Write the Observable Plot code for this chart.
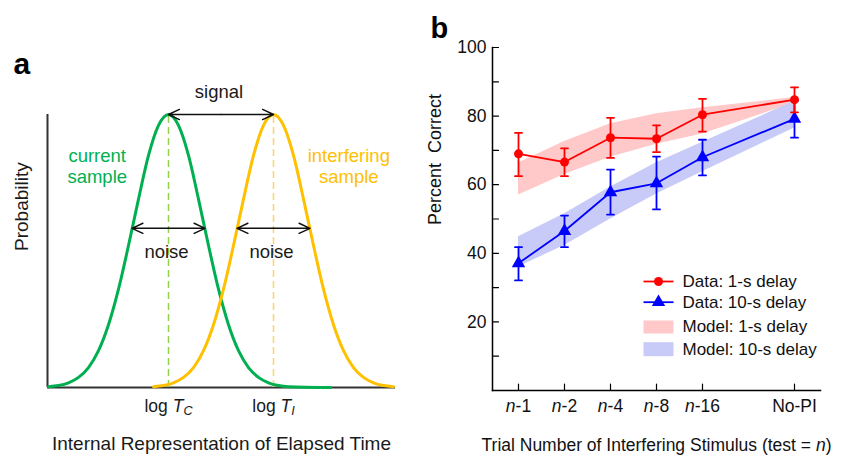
<!DOCTYPE html>
<html><head><meta charset="utf-8">
<script src="https://cdn.jsdelivr.net/npm/d3@7"></script>
<script src="https://cdn.jsdelivr.net/npm/@observablehq/plot@0.6"></script>
<style>
html,body{margin:0;padding:0;background:#fff;}
#root{position:relative;width:846px;height:455px;overflow:hidden;}
#pa,#pb{position:absolute;top:0;}
#pa{left:0;} #pb{left:420px;}
svg{overflow:visible;}
</style></head><body><div id="root"><div id="pa"></div><div id="pb"></div></div>
<script>
// ---------------- Panel a data ----------------
const sampleNames = ["current\nsample", "interfering\nsample"];
const sampleMeans = [121, 226];            // log T_C, log T_I on the internal-time axis
const meanLabels = ["log TC", "log TI"];
const profileOffsets = [-120,-110,-100,-90,-80,-70,-60,-50,-40,-30,-20,-10,0,10,20,30,40,50,60,70,80,90,100,110,120];
const profileHeights = [0.003,0.007,0.017,0.037,0.073,0.135,0.23,0.36,0.52,0.69,0.85,0.96,1,0.96,0.85,0.69,0.52,0.36,0.23,0.135,0.073,0.037,0.017,0.007,0.003];
const currentTailEnd = 162;
const noiseLevel = 0.583;
const noiseHalfWidth = 36.5;
const panelATexts = ["signal", "noise", "Probability", "Internal Representation of Elapsed Time", "a"];

// ---------------- Panel b data ----------------
const trials = ["n-1", "n-2", "n-4", "n-8", "n-16", "No-PI"];
const data1s     = [69.0, 66.6, 73.7, 73.4, 80.4, 84.8];
const err1sLow   = [62.5, 62.5, 67.8, 69.5, 75.5, 81.1];
const err1sHigh  = [75.1, 70.6, 79.5, 77.3, 85.0, 88.4];
const data10s    = [37.1, 46.5, 57.8, 60.4, 68.0, 79.2];
const err10sLow  = [32.1, 41.8, 51.3, 52.8, 62.7, 73.7];
const err10sHigh = [41.8, 51.0, 64.4, 68.2, 73.1, 84.5];
const model1sLow   = [57.0, 63.0, 68.0, 71.8, 74.8, 83.8];
const model1sHigh  = [66.3, 72.6, 77.8, 80.7, 82.4, 85.4];
const model10sLow  = [36.0, 42.3, 50.0, 57.3, 63.8, 76.5];
const model10sHigh = [44.8, 51.5, 59.3, 66.4, 72.4, 84.3];
const yTickValues = [10, 20, 30, 40, 50, 60, 70, 80, 90, 100];
const yTickLabels = [20, 40, 60, 80, 100];
const legendLabels = ["Data: 1-s delay", "Data: 10-s delay", "Model: 1-s delay", "Model: 10-s delay"];
const yTitle = "Percent  Correct";
const xTitle = "Trial Number of Interfering Stimulus (test = n)";

const FONT = '"Liberation Sans", Arial, Helvetica, sans-serif';
const GREEN = "#00b050", GOLD = "#ffc000", LGREEN = "#92d050", LGOLD = "#ffd65c";
const RED = "#ff0000", BLUE = "#0000ff", PINK = "#ffc9c9", LAV = "#c8cbf7";
const segment = {draw(ctx, l) { ctx.moveTo(0, 0); ctx.lineTo(0, -l); }};

// ---------------- Panel a ----------------
const currentRows = profileOffsets.map((o, i) => ({x: sampleMeans[0] + o, p: profileHeights[i]}));
currentRows.push({x: sampleMeans[0] + currentTailEnd, p: 0});
const interferingRows = profileOffsets.map((o, i) => ({x: sampleMeans[1] + o, p: profileHeights[i]}));
const signalMid = (sampleMeans[0] + sampleMeans[1]) / 2;
const noiseEnds = sampleMeans.flatMap(m => [{m, e: m - noiseHalfWidth}, {m, e: m + noiseHalfWidth}]);
const arrowStyle = {stroke: "#111", strokeWidth: 1.5, headLength: 12, headAngle: 50};

const plotA = Plot.plot({
  width: 420, height: 455,
  marginLeft: 47, marginRight: 25, marginTop: 114, marginBottom: 68,
  x: {domain: [0, 348], axis: null},
  y: {domain: [0, 1], axis: null},
  style: {fontFamily: FONT, fontSize: "18px", color: "#1a1a1a", background: "transparent", overflow: "visible"},
  marks: [
    Plot.ruleX([0], {y1: 0, y2: 1, stroke: "#333", strokeWidth: 2}),
    Plot.ruleY([0], {stroke: "#333", strokeWidth: 2}),
    Plot.ruleX([sampleMeans[0]], {y1: 0, y2: 1, stroke: LGREEN, strokeWidth: 1.5, strokeDasharray: "7,4"}),
    Plot.ruleX([sampleMeans[1]], {y1: 0, y2: 1, stroke: LGOLD, strokeWidth: 1.5, strokeDasharray: "7,4"}),
    Plot.line(currentRows, {x: "x", y: "p", stroke: GREEN, strokeWidth: 3, curve: "monotone-x"}),
    Plot.line(interferingRows, {x: "x", y: "p", stroke: GOLD, strokeWidth: 3, curve: "monotone-x"}),
    Plot.arrow(sampleMeans, {x1: signalMid, x2: d => d, y1: 1, y2: 1, ...arrowStyle}),
    Plot.arrow(noiseEnds, {x1: "m", x2: "e", y1: noiseLevel, y2: noiseLevel, ...arrowStyle}),
    Plot.text([panelATexts[0]], {x: signalMid, y: 1, dx: -2, dy: -17, lineAnchor: "bottom", fontSize: 18.5}),
    Plot.text(sampleMeans, {x: d => d, y: noiseLevel, text: () => panelATexts[1], dx: -2, dy: 30, lineAnchor: "bottom", fontSize: 18.5}),
    Plot.text([sampleNames[0]], {x: 49.7, y: 0.813, fill: GREEN, fontSize: 18.5, lineHeight: 1.17}),
    Plot.text([sampleNames[1]], {x: 301.3, y: 0.813, fill: GOLD, fontSize: 18.5, lineHeight: 1.17}),
    Plot.text(sampleMeans, {x: d => d, y: 0, text: (d, i) => meanLabels[i], dy: 24, lineAnchor: "bottom", fontSize: 17.5}),
    Plot.text([panelATexts[2]], {frameAnchor: "left", rotate: -90, dx: -26, lineAnchor: "middle", fontSize: 19}),
    Plot.text([panelATexts[3]], {frameAnchor: "bottom", dy: 56, lineAnchor: "middle", fontSize: 19}),
    Plot.text([panelATexts[4]], {frameAnchor: "top-left", dx: -34, dy: -41, lineAnchor: "bottom", textAnchor: "start", fontSize: 30, fontWeight: "bold", fill: "#000"})
  ]
});
document.getElementById("pa").appendChild(plotA);

// ---------------- Panel b ----------------
const rows = trials.map((t, i) => ({
  t, d1: data1s[i], e1lo: err1sLow[i], e1hi: err1sHigh[i],
  d10: data10s[i], e10lo: err10sLow[i], e10hi: err10sHigh[i],
  m1lo: model1sLow[i], m1hi: model1sHigh[i], m10lo: model10sLow[i], m10hi: model10sHigh[i]
}));
const xDomain = [...trials.slice(0, 5), " ", trials[5]];

function series(color, dKey, loKey, hiKey, symbol, r) {
  return [
    Plot.ruleX(rows, {x: "t", y1: loKey, y2: hiKey, stroke: color, strokeWidth: 1.8}),
    Plot.vector(rows, {x: "t", y: loKey, rotate: 90, length: 7, anchor: "middle", shape: segment, stroke: color, strokeWidth: 1.8}),
    Plot.vector(rows, {x: "t", y: hiKey, rotate: 90, length: 7, anchor: "middle", shape: segment, stroke: color, strokeWidth: 1.8}),
    Plot.line(rows, {x: "t", y: dKey, stroke: color, strokeWidth: 1.8}),
    Plot.dot(rows, {x: "t", y: dKey, symbol, r, fill: color, stroke: "none"})
  ];
}

const legendY = [234, 254.7, 279.5, 301.7];
const swatch = {frameAnchor: "top-left", dx: 151, rotate: 90, length: 30, anchor: "start", shape: segment, strokeLinecap: "butt"};
const legendMarks = [
  Plot.vector([0], {...swatch, dy: legendY[0], stroke: RED, strokeWidth: 1.8}),
  Plot.dot([0], {frameAnchor: "top-left", dx: 166, dy: legendY[0], r: 4.5, symbol: "circle", fill: RED}),
  Plot.vector([0], {...swatch, dy: legendY[1], stroke: BLUE, strokeWidth: 1.8}),
  Plot.dot([0], {frameAnchor: "top-left", dx: 166, dy: legendY[1], r: 5, symbol: "triangle", fill: BLUE}),
  Plot.vector([0], {...swatch, dy: legendY[2], stroke: PINK, strokeWidth: 13}),
  Plot.vector([0], {...swatch, dy: legendY[3], stroke: LAV, strokeWidth: 14})
];
legendLabels.forEach((lab, i) => legendMarks.push(
  Plot.text([lab], {frameAnchor: "top-left", dx: 190, dy: legendY[i], textAnchor: "start", lineAnchor: "middle", fontSize: 17})
));

const plotB = Plot.plot({
  width: 426, height: 455,
  marginLeft: 72, marginRight: 26, marginTop: 47, marginBottom: 65,
  x: {type: "point", domain: xDomain, padding: 0.5},
  y: {domain: [0, 100]},
  style: {fontFamily: FONT, fontSize: "17px", color: "#111", background: "transparent", overflow: "visible"},
  marks: [
    Plot.areaY(rows, {x: "t", y1: "m1lo", y2: "m1hi", fill: PINK}),
    Plot.areaY(rows, {x: "t", y1: "m10lo", y2: "m10hi", fill: LAV}),
    ...series(BLUE, "d10", "e10lo", "e10hi", "triangle", 5),
    ...series(RED, "d1", "e1lo", "e1hi", "circle", 4.5),
    Plot.axisY(yTickLabels, {tickSize: 0, tickPadding: 6, fontSize: 17.5, label: null}),
    Plot.vector(yTickValues, {y: d => d, frameAnchor: "left", rotate: 90, length: 6, anchor: "start", shape: segment, stroke: "#000", strokeWidth: 1.2}),
    Plot.axisX(trials, {tickSize: 0, tickPadding: 9, fontSize: 17.5, label: null}),
    Plot.vector(trials, {x: d => d, frameAnchor: "bottom", rotate: 0, length: 6.5, anchor: "start", shape: segment, stroke: "#000", strokeWidth: 1.2}),
    Plot.frame({anchor: "left", stroke: "#000", strokeWidth: 1.5}),
    Plot.frame({anchor: "bottom", stroke: "#000", strokeWidth: 1.5}),
    Plot.text([yTitle], {frameAnchor: "left", rotate: -90, dx: -57, dy: 6, lineAnchor: "middle", fontSize: 18}),
    Plot.text([xTitle], {frameAnchor: "bottom", dy: 55, lineAnchor: "middle", fontSize: 17.5}),
    Plot.text(["b"], {frameAnchor: "top-left", dx: -62, dy: -10, lineAnchor: "bottom", textAnchor: "start", fontSize: 29, fontWeight: "bold", fill: "#000"}),
    ...legendMarks
  ]
});
document.getElementById("pb").appendChild(plotB);

// ---------------- rich text (italics / subscripts) ----------------
function rich(svg, test, partsOf) {
  d3.select(svg).selectAll("text").filter(function () { return test(this.textContent); }).each(function () {
    const t = d3.select(this);
    const parts = partsOf(this.textContent);
    t.text(null);
    parts.forEach(p => {
      const s = t.append("tspan").text(p.text);
      if (p.italic) s.attr("font-style", "italic");
      if (p.sub) s.attr("font-size", "0.72em").attr("dy", "0.3em");
    });
  });
}
rich(plotA, s => meanLabels.includes(s), s => [{text: "log "}, {text: "T", italic: true}, {text: s.slice(5), italic: true, sub: true}]);
rich(plotB, s => /^n-\d+$/.test(s), s => [{text: "n", italic: true}, {text: s.slice(1)}]);
rich(plotB, s => s === xTitle, s => [{text: s.slice(0, -2)}, {text: "n", italic: true}, {text: ")"}]);
</script></body></html>
